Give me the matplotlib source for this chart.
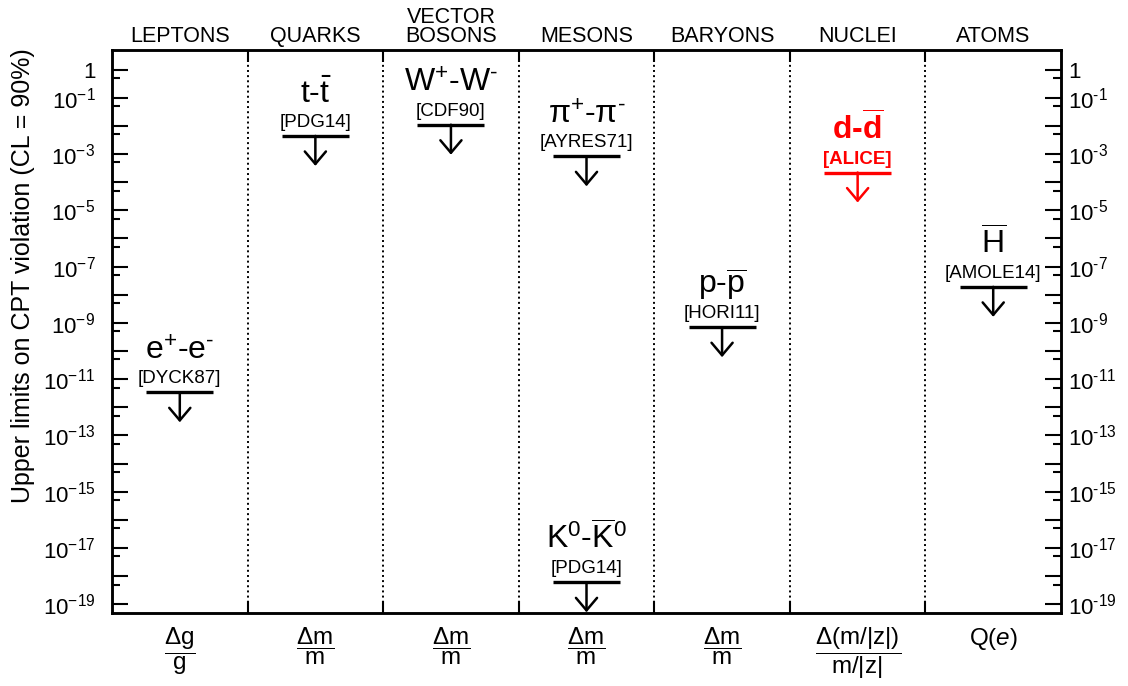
import matplotlib
matplotlib.use('Agg')
import matplotlib.pyplot as plt
from matplotlib.ticker import FixedLocator, FixedFormatter, NullFormatter

plt.rcParams['font.family'] = ['Liberation Sans', 'DejaVu Sans']
plt.rcParams['mathtext.fontset'] = 'custom'
plt.rcParams['mathtext.rm'] = 'Liberation Sans'
plt.rcParams['mathtext.it'] = 'Liberation Sans:italic'
plt.rcParams['mathtext.bf'] = 'Liberation Sans:bold'
plt.rcParams['mathtext.sf'] = 'Liberation Sans'

HY = '\u2010'  # short hyphen for superscripts

# column headers and the quantity compared in each column
categories = ['LEPTONS', 'QUARKS', 'VECTOR\nBOSONS', 'MESONS', 'BARYONS', 'NUCLEI', 'ATOMS']
quantities = [r'$\dfrac{\Delta\mathrm{g}}{\mathrm{g}}$',
              r'$\dfrac{\Delta\mathrm{m}}{\mathrm{m}}$',
              r'$\dfrac{\Delta\mathrm{m}}{\mathrm{m}}$',
              r'$\dfrac{\Delta\mathrm{m}}{\mathrm{m}}$',
              r'$\dfrac{\Delta\mathrm{m}}{\mathrm{m}}$',
              r'$\dfrac{\Delta(\mathrm{m}/|\mathrm{z}|)}{\mathrm{m}/|\mathrm{z}|}$',
              r'Q($e$)']

# upper limits (CL = 90%)
particles = ['e$^{+}$-e$^{' + HY + '}$', r't-$\bar{\mathrm{t}}$',
             'W$^{+}$-W$^{' + HY + '}$', 'π$^{+}$-π$^{' + HY + '}$',
             r'K$^{0}$-$\overline{\mathrm{K}}^{0}$',
             r'p-$\overline{\mathrm{p}}$', r'$\mathbf{d}$-$\overline{\mathbf{d}}$',
             r'$\overline{\mathrm{H}}$']
references = ['[DYCK87]', '[PDG14]', '[CDF90]', '[AYRES71]', '[PDG14]',
              '[HORI11]', '[ALICE]', '[AMOLE14]']
columns = [0, 1, 2, 3, 3, 4, 5, 6]
limits = [3.4e-12, 4.4e-3, 1.1e-2, 8.3e-4, 6.0e-19, 7.0e-10, 2.2e-4, 1.9e-8]
is_new = [False, False, False, False, False, False, True, False]

fig = plt.figure(figsize=(11.28, 6.86), dpi=100)
ax = fig.add_axes([0.0993, 0.1069, 0.8413, 0.8203])
ax.set_yscale('log')
ax.set_xlim(0, len(categories))
ax.set_ylim(5e-20, 5)
ax2 = ax.twinx()
ax2.set_yscale('log')
ax2.set_ylim(ax.get_ylim())

major = [10.0 ** k for k in range(-19, 1)]
minor = [5 * 10.0 ** k for k in range(-19, 0)]
left_lbl = []
right_lbl = []
for k in range(-19, 1):
    if k == 0:
        left_lbl.append('1')
        right_lbl.append('1')
    elif k % 2:
        left_lbl.append(r'$\mathdefault{10^{-%d}}$' % -k)
        right_lbl.append('$\\mathdefault{10^{' + HY + '%d}}$' % -k)
    else:
        left_lbl.append('')
        right_lbl.append('')

for a, lbls in ((ax, left_lbl), (ax2, right_lbl)):
    a.yaxis.set_major_locator(FixedLocator(major))
    a.yaxis.set_major_formatter(FixedFormatter(lbls))
    a.yaxis.set_minor_locator(FixedLocator(minor))
    a.yaxis.set_minor_formatter(NullFormatter())
    for s in a.spines.values():
        s.set_linewidth(1.8)

ax.tick_params(axis='y', which='major', direction='in', length=11.5, width=1.5,
               labelsize=16, pad=12, left=True, right=False)
ax.tick_params(axis='y', which='minor', direction='in', length=5.8, width=1.5,
               left=True, right=False)
ax2.tick_params(axis='y', which='major', direction='in', length=11.5, width=1.5,
                labelsize=16, pad=5)
ax2.tick_params(axis='y', which='minor', direction='in', length=5.8, width=1.5)

# column separators
bounds = list(range(1, len(categories)))
ax.set_xticks(bounds)
ax.set_xticklabels([])
ax.tick_params(axis='x', which='both', direction='in', length=8.6, width=1.5,
               top=True, bottom=True)
ax.xaxis.set_minor_locator(FixedLocator([]))
ax.vlines(bounds, 5e-20, 5, colors='black', linestyles=':', linewidth=1.4)

xaxis_tr = ax.get_xaxis_transform()
for i, (cat, q) in enumerate(zip(categories, quantities)):
    ax.annotate(cat, xy=(i + 0.5, 1), xycoords=xaxis_tr, xytext=(0, 3),
                textcoords='offset pixels', ha='center', va='bottom',
                fontsize=15.5, linespacing=0.9)
    ax.annotate(q, xy=(i + 0.5, 0), xycoords=xaxis_tr, xytext=(0, -13),
                textcoords='offset pixels', ha='center', va='top', fontsize=17.5)

for name, ref, col, lim, new in zip(particles, references, columns, limits, is_new):
    x = col + 0.5
    color = 'red' if new else 'black'
    weight = 'bold' if new else 'normal'
    ax.hlines(lim, x - 0.247, x + 0.247, colors=color, linewidth=2.4)
    ax.annotate('', xy=(x, lim), xytext=(0, -30), textcoords='offset pixels',
                arrowprops=dict(arrowstyle='<-, head_length=0.45, head_width=0.38',
                                color=color, lw=1.8,
                                shrinkA=0, shrinkB=0, mutation_scale=20))
    ax.annotate(ref, xy=(x, lim), xytext=(0, 5), textcoords='offset pixels',
                ha='center', va='bottom', fontsize=13.5, color=color,
                fontweight=weight)
    ax.annotate(name, xy=(x, lim), xytext=(0, 33), textcoords='offset pixels',
                ha='center', va='baseline', fontsize=23, color=color,
                fontweight=weight)

fig.text(23 / 1128, 1 - 48 / 686, 'Upper limits on CPT violation (CL = 90%)',
         rotation=90, ha='center', va='top', fontsize=18)

fig.savefig('out.png', dpi=100)
